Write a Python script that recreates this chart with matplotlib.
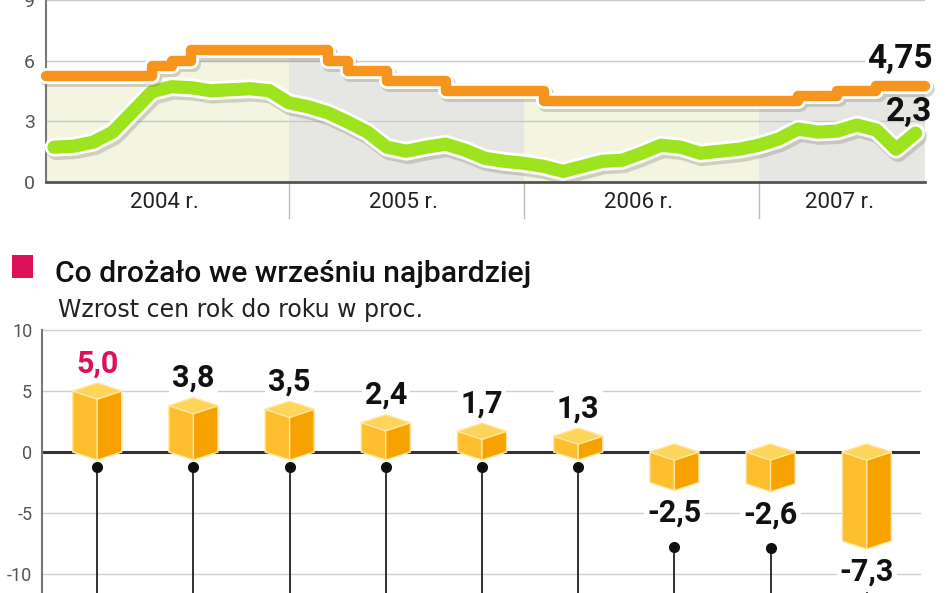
import numpy as np
import matplotlib
matplotlib.use('Agg')
import matplotlib.pyplot as plt
import matplotlib.patheffects as pe
from matplotlib.patches import Polygon, Rectangle

plt.rcParams['font.family'] = ['Roboto', 'DejaVu Sans']

# ---------------- data: top chart (monthly, Jan 2004 - Sep 2007) ----------------
years = ['2004 r.', '2005 r.', '2006 r.', '2007 r.']
rate_2004 = [5.25, 5.25, 5.25, 5.25, 5.25, 5.75, 6.0, 6.5, 6.5, 6.5, 6.5, 6.5]
rate_2005 = [6.5, 6.5, 6.0, 5.5, 5.5, 5.0, 5.0, 5.0, 4.5, 4.5, 4.5, 4.5]
rate_2006 = [4.5, 4.0, 4.0, 4.0, 4.0, 4.0, 4.0, 4.0, 4.0, 4.0, 4.0, 4.0]
rate_2007 = [4.0, 4.0, 4.25, 4.25, 4.5, 4.5, 4.75, 4.75, 4.75]

cpi_2004 = [1.7, 1.75, 1.95, 2.45, 3.45, 4.45, 4.7, 4.65, 4.5, 4.55, 4.6, 4.5]
cpi_2005 = [3.9, 3.7, 3.4, 2.95, 2.45, 1.7, 1.5, 1.7, 1.85, 1.55, 1.15, 1.0]
cpi_2006 = [0.9, 0.75, 0.5, 0.75, 1.0, 1.05, 1.4, 1.8, 1.7, 1.4, 1.5, 1.6]
cpi_2007 = [1.8, 2.1, 2.6, 2.45, 2.5, 2.8, 2.55, 1.6, 2.4]

rate_label = '4,75'
cpi_label = '2,3'
top_yticks = [0, 3, 6, 9]

# ---------------- data: bottom chart ----------------
title = 'Co drożało we wrześniu najbardziej'
subtitle = 'Wzrost cen rok do roku w proc.'
bar_values = [5.0, 3.8, 3.5, 2.4, 1.7, 1.3, -2.5, -2.6, -7.3]
bar_labels = ['5,0', '3,8', '3,5', '2,4', '1,7', '1,3', '-2,5', '-2,6', '-7,3']
bottom_yticks = [-10, -5, 0, 5, 10]

rate = np.array(rate_2004 + rate_2005 + rate_2006 + rate_2007)
cpi = np.array(cpi_2004 + cpi_2005 + cpi_2006 + cpi_2007)
months = np.arange(len(rate))

# ---------------- figure ----------------
W, H = 948, 593
fig = plt.figure(figsize=(W / 100, H / 100), dpi=100)
fig.patch.set_facecolor('white')


def rect(l, t, r, b):
    return [l / W, 1 - b / H, (r - l) / W, (b - t) / H]


ORANGE = '#F7941D'
GREEN = '#9DE31E'
PINK = '#DC1158'

# ================= top chart =================
ax1 = fig.add_axes(rect(46, 0, 925, 181.5))
x0, x1 = -0.41, 44.48
ax1.set_xlim(x0, x1)
ax1.set_ylim(0, 9)

xf = np.concatenate([[x0], months, [x1]])
yf = np.concatenate([[rate[0]], rate, [rate[-1]]])

year_bounds = [x0, 12, 24, 36, x1]
fill_cols = ['#F3F5E0', '#E6E6E2', '#F3F5E0', '#E6E6E2']
for k in range(4):
    poly = ax1.fill_between(xf, 0, yf, step='post', color=fill_cols[k], lw=0, zorder=1)
    clip = Rectangle((year_bounds[k], 0), year_bounds[k + 1] - year_bounds[k], 9,
                     transform=ax1.transData)
    poly.set_clip_path(clip)

for yv in top_yticks[1:]:
    ax1.axhline(yv, color='#c9c9c9', lw=1, zorder=1.5)

ax1.plot(months, cpi, color=GREEN, lw=9.5, solid_capstyle='round', solid_joinstyle='round',
         zorder=3, clip_on=False,
         path_effects=[pe.Stroke(offset=(1.5, -2.5), linewidth=13.5, foreground='#7a7a7a', alpha=0.3),
                       pe.Stroke(linewidth=13.5, foreground='white'), pe.Normal()])
ax1.plot(xf, yf, drawstyle='steps-post', color=ORANGE, lw=7.5, solid_capstyle='round',
         solid_joinstyle='round', zorder=4, clip_on=False,
         path_effects=[pe.Stroke(offset=(1.5, -2.5), linewidth=11.5, foreground='#7a7a7a', alpha=0.3),
                       pe.Stroke(linewidth=11.5, foreground='white'), pe.Normal()])

for s in ['top', 'right']:
    ax1.spines[s].set_visible(False)
ax1.spines['left'].set_color('#777777')
ax1.spines['left'].set_linewidth(1.5)
ax1.spines['bottom'].set_color('#555555')
ax1.spines['bottom'].set_linewidth(2)
ax1.spines['bottom'].set_zorder(5)
ax1.set_yticks(top_yticks)
ax1.set_yticklabels([str(v) for v in top_yticks])
ax1.tick_params(axis='y', length=0, pad=8, labelsize=14, labelcolor='#555555')
ax1.set_xticks([])

xt = ax1.get_xaxis_transform()
for b in year_bounds[1:-1]:
    ax1.plot([b, b], [0, -0.2], transform=xt, color='#bbbbbb', lw=1, clip_on=False)
for k, yl in enumerate(years):
    ax1.text((year_bounds[k] + year_bounds[k + 1]) / 2 - 0.15, -0.113, yl, transform=xt,
             ha='center', va='center', fontsize=16, color='#222222')

ax1.annotate(rate_label, xy=(months[-1], rate[-1]), xytext=(12, 19), textcoords='offset points',
             ha='right', va='center', fontsize=24, fontweight='bold', color='#111111', zorder=6,
             bbox=dict(boxstyle='square,pad=0.05', fc='white', ec='none'))
ax1.annotate(cpi_label, xy=(months[-1], cpi[-1]), xytext=(12, 15), textcoords='offset points',
             ha='right', va='center', fontsize=24, fontweight='bold', color='#111111', zorder=6)

# ================= bottom chart =================
fig.add_artist(Rectangle((12 / W, 1 - 278 / H), 21 / W, 23 / H, transform=fig.transFigure,
                         color=PINK, lw=0))
fig.text(55 / W, 1 - 282 / H, title, fontsize=21.7, fontweight='medium', va='baseline',
         color='#111111')
fig.text(58 / W, 1 - 317 / H, subtitle, fontsize=17, va='baseline', color='#222222',
         family=['DejaVu Sans'])

ax2 = fig.add_axes(rect(42, 330, 920, 593))
ylo = -11.56
ax2.set_ylim(ylo, 10)
ax2.set_xlim(-0.574, 8.553)
for s in ['top', 'right', 'bottom']:
    ax2.spines[s].set_visible(False)
ax2.spines['left'].set_color('#777777')
ax2.spines['left'].set_linewidth(1.5)
ax2.set_yticks(bottom_yticks)
ax2.set_yticklabels([str(v) for v in bottom_yticks])
ax2.tick_params(axis='y', length=0, pad=7, labelsize=13, labelcolor='#555555')
ax2.set_xticks([])

for yv in bottom_yticks:
    if yv == 0:
        ax2.axhline(0, color='#333333', lw=2.2, zorder=2)
    else:
        ax2.axhline(yv, color='#d0d0d0', lw=1, zorder=1, clip_on=False)

w = 0.255
d = 0.66
for i, v in enumerate(bar_values):
    top = max(v, 0)
    bot = min(v, 0)
    left_face = [(i - w, bot), (i - w, top), (i, top - d), (i, bot - d)]
    right_face = [(i, bot - d), (i, top - d), (i + w, top), (i + w, bot)]
    top_face = [(i - w, top), (i, top + d), (i + w, top), (i, top - d)]
    for pts, col in [(left_face, '#FDBF2E'), (right_face, '#F8A200'), (top_face, '#FFD45A')]:
        ax2.add_patch(Polygon(pts, closed=True, fc=col, ec='#FFE6A0', lw=1, zorder=3,
                              joinstyle='round'))
    if v >= 0:
        dot_y = bot - 1.23
        off = 20
    else:
        dot_y = v - 5.3
        off = -22
    ax2.plot([i, i], [dot_y, ylo], color='#222222', lw=1.3, zorder=2.5, clip_on=True)
    ax2.plot(i, dot_y, 'o', color='#111111', ms=7, zorder=4)
    ax2.annotate(bar_labels[i], xy=(i, v), xytext=(0, off), textcoords='offset points',
                 ha='center', va='center', fontsize=22, fontweight='bold',
                 color=PINK if i == 0 else '#111111', zorder=5,
                 bbox=dict(boxstyle='square,pad=0.1', fc='white', ec='none'))

fig.savefig('out.png', dpi=100)
